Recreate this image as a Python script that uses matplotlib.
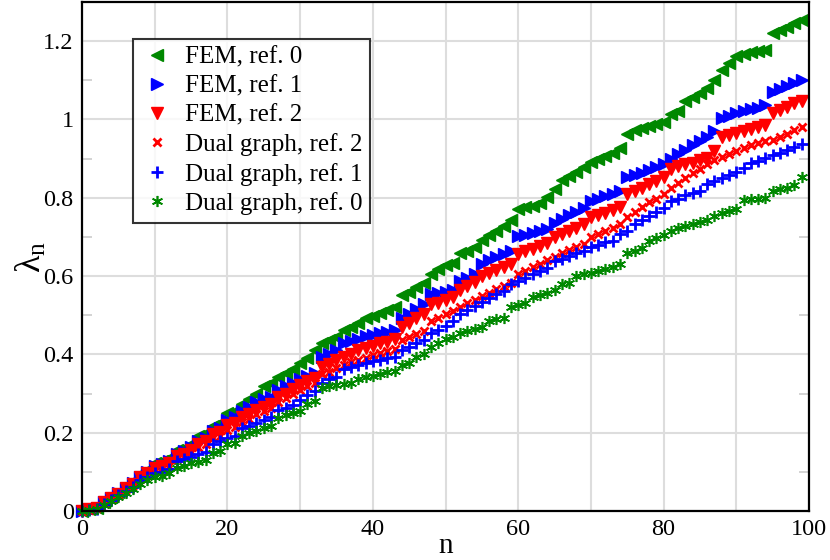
import numpy as np
import matplotlib
matplotlib.use("Agg")
import matplotlib.pyplot as plt
from matplotlib.ticker import MultipleLocator, FuncFormatter

plt.rcParams['font.family'] = ['Liberation Serif', 'DejaVu Serif']
plt.rcParams['mathtext.fontset'] = 'custom'
plt.rcParams['mathtext.rm'] = 'Liberation Serif'
plt.rcParams['mathtext.it'] = 'Liberation Serif:italic'

n = np.arange(100)

# eigenvalues
fem_ref0 = [
    0.000, 0.004, 0.008, 0.024, 0.036, 0.048, 0.064, 0.076, 0.094, 0.104,
    0.122, 0.128, 0.136, 0.155, 0.162, 0.172, 0.192, 0.198, 0.218, 0.226,
    0.250, 0.256, 0.274, 0.286, 0.300, 0.318, 0.326, 0.342, 0.352, 0.362,
    0.378, 0.392, 0.410, 0.428, 0.436, 0.444, 0.462, 0.470, 0.480, 0.492,
    0.498, 0.506, 0.514, 0.522, 0.552, 0.560, 0.572, 0.582, 0.606, 0.618,
    0.628, 0.634, 0.658, 0.664, 0.674, 0.692, 0.704, 0.716, 0.728, 0.742,
    0.770, 0.776, 0.780, 0.786, 0.802, 0.822, 0.846, 0.856, 0.866, 0.878,
    0.892, 0.900, 0.906, 0.914, 0.926, 0.964, 0.972, 0.978, 0.984, 0.988,
    0.994, 1.014, 1.022, 1.048, 1.058, 1.068, 1.080, 1.100, 1.126, 1.144,
    1.162, 1.168, 1.172, 1.174, 1.178, 1.222, 1.228, 1.236, 1.246, 1.254]
fem_ref1 = [
    0.000, 0.004, 0.008, 0.022, 0.034, 0.046, 0.060, 0.072, 0.088, 0.100,
    0.114, 0.120, 0.128, 0.145, 0.152, 0.164, 0.180, 0.186, 0.204, 0.212,
    0.232, 0.240, 0.256, 0.266, 0.278, 0.286, 0.292, 0.308, 0.318, 0.328,
    0.338, 0.346, 0.352, 0.394, 0.402, 0.410, 0.428, 0.434, 0.440, 0.446,
    0.450, 0.454, 0.458, 0.462, 0.494, 0.504, 0.516, 0.528, 0.554, 0.556,
    0.560, 0.564, 0.588, 0.596, 0.606, 0.630, 0.640, 0.648, 0.656, 0.664,
    0.702, 0.706, 0.710, 0.716, 0.720, 0.736, 0.746, 0.756, 0.764, 0.774,
    0.792, 0.798, 0.804, 0.810, 0.818, 0.852, 0.858, 0.864, 0.872, 0.878,
    0.886, 0.900, 0.912, 0.922, 0.934, 0.944, 0.956, 0.970, 1.004, 1.010,
    1.016, 1.022, 1.026, 1.030, 1.036, 1.070, 1.078, 1.086, 1.094, 1.100]
fem_ref2 = [
    0.000, 0.004, 0.008, 0.022, 0.033, 0.044, 0.058, 0.070, 0.086, 0.096,
    0.110, 0.116, 0.122, 0.140, 0.146, 0.156, 0.172, 0.178, 0.196, 0.202,
    0.220, 0.226, 0.240, 0.248, 0.258, 0.266, 0.272, 0.290, 0.300, 0.312,
    0.322, 0.332, 0.340, 0.368, 0.376, 0.386, 0.394, 0.402, 0.410, 0.416,
    0.422, 0.428, 0.432, 0.438, 0.470, 0.480, 0.492, 0.504, 0.528, 0.532,
    0.538, 0.546, 0.564, 0.574, 0.586, 0.600, 0.608, 0.616, 0.622, 0.630,
    0.656, 0.664, 0.670, 0.676, 0.684, 0.700, 0.708, 0.716, 0.724, 0.734,
    0.750, 0.756, 0.762, 0.768, 0.776, 0.810, 0.818, 0.826, 0.836, 0.844,
    0.852, 0.874, 0.880, 0.886, 0.890, 0.896, 0.902, 0.920, 0.954, 0.960,
    0.966, 0.970, 0.976, 0.980, 0.986, 1.016, 1.024, 1.032, 1.042, 1.048]
dual_ref2 = [
    0.000, 0.003, 0.007, 0.020, 0.031, 0.042, 0.055, 0.066, 0.082, 0.092,
    0.104, 0.110, 0.116, 0.134, 0.140, 0.150, 0.164, 0.170, 0.186, 0.192,
    0.208, 0.214, 0.228, 0.236, 0.248, 0.256, 0.262, 0.278, 0.288, 0.298,
    0.308, 0.318, 0.326, 0.350, 0.356, 0.364, 0.372, 0.380, 0.386, 0.392,
    0.398, 0.404, 0.408, 0.414, 0.436, 0.444, 0.452, 0.460, 0.486, 0.494,
    0.502, 0.510, 0.520, 0.530, 0.540, 0.548, 0.558, 0.566, 0.574, 0.582,
    0.606, 0.614, 0.622, 0.630, 0.640, 0.648, 0.658, 0.666, 0.674, 0.682,
    0.700, 0.708, 0.716, 0.724, 0.734, 0.752, 0.764, 0.776, 0.788, 0.798,
    0.810, 0.826, 0.838, 0.850, 0.862, 0.874, 0.886, 0.896, 0.904, 0.912,
    0.920, 0.926, 0.934, 0.940, 0.946, 0.948, 0.956, 0.964, 0.972, 0.980]
dual_ref1 = [
    0.000, 0.003, 0.006, 0.018, 0.029, 0.040, 0.052, 0.062, 0.078, 0.087,
    0.096, 0.100, 0.106, 0.128, 0.132, 0.138, 0.146, 0.150, 0.172, 0.180,
    0.186, 0.192, 0.212, 0.218, 0.226, 0.232, 0.240, 0.258, 0.264, 0.270,
    0.284, 0.296, 0.306, 0.328, 0.336, 0.342, 0.362, 0.368, 0.372, 0.378,
    0.382, 0.386, 0.390, 0.394, 0.412, 0.420, 0.428, 0.436, 0.454, 0.462,
    0.472, 0.486, 0.504, 0.514, 0.524, 0.534, 0.544, 0.554, 0.562, 0.580,
    0.588, 0.596, 0.604, 0.612, 0.620, 0.638, 0.644, 0.652, 0.658, 0.664,
    0.674, 0.680, 0.686, 0.690, 0.708, 0.714, 0.734, 0.744, 0.754, 0.764,
    0.774, 0.792, 0.798, 0.806, 0.812, 0.818, 0.836, 0.842, 0.850, 0.858,
    0.866, 0.876, 0.888, 0.894, 0.902, 0.908, 0.914, 0.922, 0.930, 0.938]
dual_ref0 = [
    0.000, 0.002, 0.005, 0.016, 0.026, 0.036, 0.046, 0.056, 0.068, 0.078,
    0.086, 0.090, 0.096, 0.110, 0.116, 0.122, 0.126, 0.130, 0.148, 0.152,
    0.170, 0.174, 0.192, 0.198, 0.204, 0.212, 0.216, 0.238, 0.244, 0.250,
    0.256, 0.274, 0.282, 0.314, 0.318, 0.322, 0.324, 0.328, 0.338, 0.342,
    0.346, 0.350, 0.354, 0.358, 0.372, 0.378, 0.394, 0.400, 0.418, 0.430,
    0.438, 0.444, 0.454, 0.460, 0.466, 0.470, 0.486, 0.490, 0.494, 0.520,
    0.526, 0.532, 0.546, 0.552, 0.558, 0.564, 0.580, 0.582, 0.600, 0.604,
    0.608, 0.612, 0.618, 0.622, 0.632, 0.658, 0.664, 0.672, 0.690, 0.698,
    0.706, 0.716, 0.722, 0.728, 0.734, 0.738, 0.742, 0.754, 0.760, 0.766,
    0.772, 0.794, 0.796, 0.798, 0.800, 0.818, 0.822, 0.826, 0.832, 0.852]

GREEN = "#008800"
BLUE = "#0000ff"
RED = "#ff0000"
ASTERISK = (6, 2, 0)

series = [
    (fem_ref0, "FEM, ref. 0", GREEN, "<", 8.5, 1.0),
    (fem_ref1, "FEM, ref. 1", BLUE, ">", 8.5, 1.0),
    (fem_ref2, "FEM, ref. 2", RED, "v", 8.5, 1.0),
    (dual_ref2, "Dual graph, ref. 2", RED, "x", 6, 2.0),
    (dual_ref1, "Dual graph, ref. 1", BLUE, "+", 9, 2.0),
    (dual_ref0, "Dual graph, ref. 0", GREEN, ASTERISK, 8, 1.2),
]

fig = plt.figure(figsize=(8.3, 5.6), dpi=100)
ax = fig.add_axes([0.0988, 0.0875, 0.8759, 0.909])

for vals, label, col, mk, ms, mew in series:
    ax.plot(n, vals, linestyle="none", marker=mk, markersize=ms,
            color=col, markeredgecolor=col, markeredgewidth=mew,
            label=label, clip_on=False, zorder=3)

ax.set_xlim(0, 100)
ax.set_ylim(0, 1.3)
ax.xaxis.set_major_locator(MultipleLocator(10))
ax.xaxis.set_major_formatter(FuncFormatter(lambda v, p: f"{v:g}" if round(v) % 20 == 0 else ""))
ax.yaxis.set_major_locator(MultipleLocator(0.2))
ax.yaxis.set_minor_locator(MultipleLocator(0.1))
ax.yaxis.set_major_formatter(FuncFormatter(lambda v, p: f"{v:g}" if v < 1.25 else ""))

ax.grid(True, which="major", color="#dddddd", linewidth=1.5, zorder=0)
ax.set_axisbelow(True)
ax.tick_params(which="both", direction="in", color="#cccccc", labelsize=17.5,
               left=True, right=True, top=False, bottom=True)
ax.tick_params(which="major", length=0, pad=6)
ax.tick_params(which="minor", length=7, width=1.2)
for sp in ax.spines.values():
    sp.set_linewidth(1.6)
    sp.set_color("black")
    sp.set_zorder(4)

ax.set_ylabel("λ$_\\mathrm{n}$", fontsize=26, labelpad=-4)
ax.set_xlabel("n", fontsize=21, labelpad=-5)

leg = ax.legend(loc="upper left", bbox_to_anchor=(0.07, 0.928), borderaxespad=0,
                fontsize=18, frameon=True, fancybox=False, handletextpad=0.5,
                labelspacing=0.26, borderpad=0.3, handlelength=1.3)
leg.get_frame().set_edgecolor("black")
leg.get_frame().set_linewidth(1.5)
leg.set_zorder(5)

fig.savefig("out.png", dpi=100)
